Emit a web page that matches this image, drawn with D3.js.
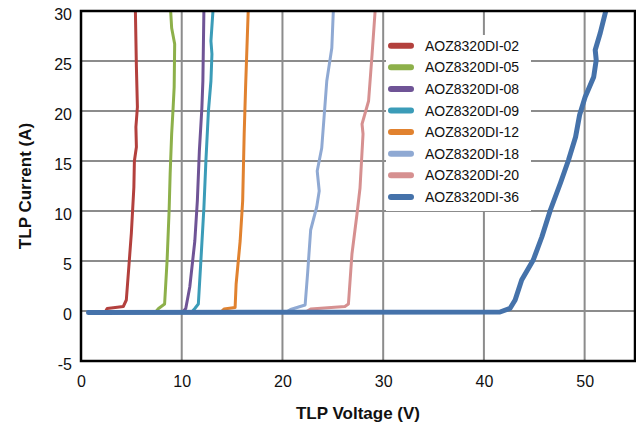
<!DOCTYPE html>
<html>
<head>
  <meta charset="utf-8">
  <title>TLP IV</title>
  <script type="text/javascript" src="https://d3js.org/d3.v7.min.js"></script>
  <style>
    body { margin: 0; background: #fff; }
    text { font-family: "Liberation Sans", Arial, sans-serif; fill: #111; }
  </style>
</head>
<body>
  <div id="container"></div>
  <script type="text/javascript">
    // series names, drawn in this order (36 ends up on top)
    var seriesNames = ['AOZ8320DI-02', 'AOZ8320DI-05', 'AOZ8320DI-08', 'AOZ8320DI-09',
                       'AOZ8320DI-12', 'AOZ8320DI-18', 'AOZ8320DI-20', 'AOZ8320DI-36'];
    var seriesColours = ['#b3403d', '#8db04a', '#6f5496', '#3b9cb8',
                         '#e1822f', '#8fa9d3', '#d69090', '#4572aa'];

    // [voltage (V), current (A)]
    var aoz02 = [[1.0,-0.1],[2.4,-0.1],[2.6,0.25],[4.2,0.45],[4.5,1.1],[4.8,5.1],[5.0,7.8],[5.25,12.4],
                 [5.3,15],[5.5,16.4],[5.45,18.4],[5.6,20.4],[5.5,24.4],[5.4,30]];
    var aoz05 = [[1.0,-0.1],[7.4,-0.1],[7.7,0.25],[8.3,0.7],[8.55,5.1],[8.75,10.1],[8.85,13.7],
                 [9.0,17.7],[9.15,20.4],[9.25,22.4],[9.3,26.7],[9.0,28.3],[8.9,30]];
    var aoz08 = [[1.0,-0.1],[10.1,-0.1],[10.4,0.25],[10.8,2.4],[11.3,7.0],[11.55,11],[11.75,16],
                 [12.0,20.3],[12.1,23],[12.2,30]];
    var aoz09 = [[1.0,-0.1],[11.0,-0.1],[11.3,0.25],[11.65,0.7],[11.9,5.0],[12.2,10.3],[12.4,15],
                 [12.65,20],[12.9,23],[13.0,25.7],[12.9,27],[13.1,30]];
    var aoz12 = [[1.0,-0.1],[13.9,-0.1],[14.2,0.2],[15.3,0.35],[15.4,2.7],[15.8,7.0],[16.05,11],
                 [16.2,17.7],[16.35,22.7],[16.6,30]];
    var aoz18 = [[1.0,-0.1],[20.4,-0.1],[20.8,0.15],[22.25,0.6],[22.5,3.8],[22.8,8.1],[23.4,10.4],
                 [23.65,12.0],[23.45,14],[23.9,16.3],[24.2,20.3],[24.4,23],[24.9,26.3],[25.05,30]];
    var aoz20 = [[1.0,-0.1],[22.3,-0.1],[22.8,0.2],[26.2,0.45],[26.55,0.7],[26.9,5.7],[27.4,9.7],
                 [27.7,12.3],[28.0,17.7],[27.9,18.7],[28.55,21],[28.9,25.7],[29.2,30]];
    var aoz36 = [[0.75,-0.15],[41.6,-0.1],[42.6,0.27],[43.1,1.1],[43.75,3.1],[44.9,5.1],
                 [45.75,7.4],[46.6,10.1],[47.6,12.8],[48.4,15.1],[49.1,17.4],[49.5,19.6],
                 [50.05,21.4],[50.9,23.4],[51.15,25.1],[51.05,26.1],[51.55,27.8],[52.1,30]];
    var seriesData = [aoz02, aoz05, aoz08, aoz09, aoz12, aoz18, aoz20, aoz36];

    var xTicks = [0, 10, 20, 30, 40, 50];
    var yTicks = [-5, 0, 5, 10, 15, 20, 25, 30];

    var width = 636, height = 434;
    var plot = {left: 81, right: 635, top: 11, bottom: 361};

    var x = d3.scaleLinear().domain([0, 55]).range([plot.left, plot.right]);
    var y = d3.scaleLinear().domain([-5, 30]).range([plot.bottom, plot.top]);

    var svg = d3.select('#container').append('svg')
      .attr('width', width).attr('height', height);

    svg.append('clipPath').attr('id', 'clip')
      .append('rect')
      .attr('x', plot.left).attr('y', plot.top)
      .attr('width', plot.right - plot.left).attr('height', plot.bottom - plot.top);

    // gridlines
    var grid = svg.append('g');
    grid.selectAll('line.v').data(xTicks.filter(d => d > 0)).enter().append('line')
      .attr('x1', d => x(d)).attr('x2', d => x(d))
      .attr('y1', plot.top).attr('y2', plot.bottom)
      .attr('stroke', '#8c8c8c').attr('stroke-width', 2);
    grid.selectAll('line.h').data(yTicks).enter().append('line')
      .attr('x1', plot.left).attr('x2', plot.right)
      .attr('y1', d => y(d)).attr('y2', d => y(d))
      .attr('stroke', '#8c8c8c').attr('stroke-width', 2);

    // legend box (white, hides grid behind it)
    var legend = svg.append('g');
    legend.append('rect')
      .attr('x', 386).attr('y', 35).attr('width', 145).attr('height', 176)
      .attr('fill', '#fff');

    // curves
    var line = d3.line().x(d => x(d[0])).y(d => y(d[1]));
    svg.append('g').attr('clip-path', 'url(#clip)')
      .selectAll('path').data(seriesData).enter().append('path')
      .attr('d', line)
      .attr('fill', 'none')
      .attr('stroke', (d, i) => seriesColours[i])
      .attr('stroke-width', (d, i) => i == 7 ? 5 : 3)
      .attr('stroke-linejoin', 'round')
      .attr('stroke-linecap', 'round');

    // legend entries
    var rows = legend.selectAll('g.row').data(seriesNames).enter().append('g')
      .attr('transform', (d, i) => `translate(0,${45.7 + i * 21.6})`);
    rows.append('line')
      .attr('x1', 391).attr('x2', 411).attr('y1', 0).attr('y2', 0)
      .attr('stroke', (d, i) => seriesColours[i])
      .attr('stroke-width', 6).attr('stroke-linecap', 'round');
    rows.append('text')
      .attr('x', 425).attr('y', 0).attr('dy', '0.36em')
      .style('font-size', '14px')
      .text(d => d);

    // frame
    svg.append('rect')
      .attr('x', plot.left).attr('y', plot.top)
      .attr('width', plot.right - plot.left).attr('height', plot.bottom - plot.top)
      .attr('fill', 'none').attr('stroke', '#000').attr('stroke-width', 2.5);

    // axes (labels only)
    var yAxis = svg.append('g')
      .attr('transform', `translate(${plot.left},0)`)
      .call(d3.axisLeft(y).tickValues(yTicks).tickFormat(d => String(d)).tickSize(0).tickPadding(9));
    var xAxis = svg.append('g')
      .attr('transform', `translate(0,${plot.bottom})`)
      .call(d3.axisBottom(x).tickValues(xTicks).tickFormat(d => String(d)).tickSize(0).tickPadding(15));
    [xAxis, yAxis].forEach(function (a) {
      a.select('.domain').remove();
      a.selectAll('text')
        .style('font-family', '"Liberation Sans", Arial, sans-serif')
        .style('font-size', '16px').attr('fill', '#111');
    });
    yAxis.selectAll('text').attr('dy', '0.5em');

    // axis titles
    svg.append('text')
      .attr('x', (plot.left + plot.right) / 2).attr('y', 419)
      .attr('text-anchor', 'middle')
      .style('font-size', '17px').style('font-weight', 'bold')
      .text('TLP Voltage (V)');
    svg.append('text')
      .attr('transform', `translate(31,${(plot.top + plot.bottom) / 2}) rotate(-90)`)
      .attr('text-anchor', 'middle')
      .style('font-size', '17px').style('font-weight', 'bold')
      .text('TLP Current (A)');
  </script>
</body>
</html>
